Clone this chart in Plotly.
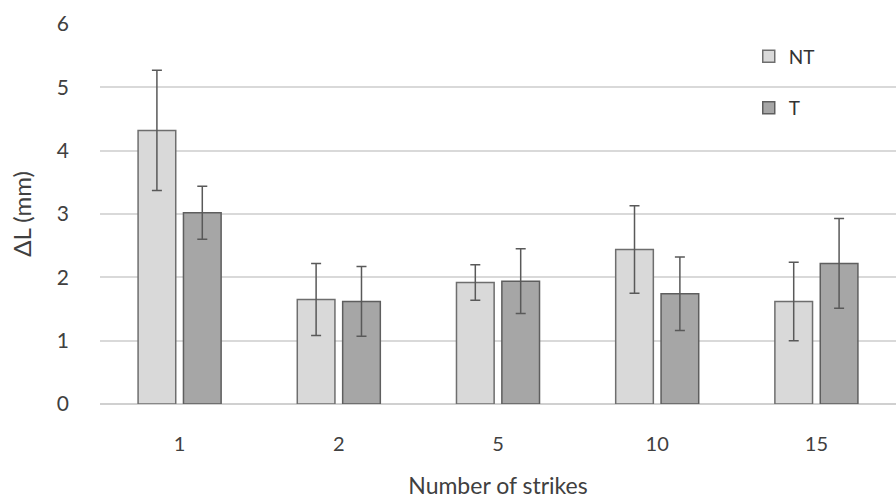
import plotly.graph_objects as go

categories = ["1", "2", "5", "10", "15"]
nt_values = [4.32, 1.65, 1.92, 2.44, 1.62]
nt_errors = [0.95, 0.57, 0.28, 0.69, 0.62]
t_values = [3.02, 1.62, 1.94, 1.74, 2.22]
t_errors = [0.42, 0.55, 0.51, 0.58, 0.71]
y_ticks = [0, 1, 2, 3, 4, 5, 6]

font_family = "Lato, 'Open Sans', sans-serif"
text_color = "#404040"

fig = go.Figure()
fig.add_trace(go.Bar(
    name="NT", x=categories, y=nt_values,
    marker=dict(color="#d9d9d9", line=dict(color="#6e6e6e", width=1.5)),
    error_y=dict(type="data", array=nt_errors, color="#595959", thickness=1.5, width=5),
    legendgroup="nt",
))
fig.add_trace(go.Bar(
    name="T", x=categories, y=t_values,
    marker=dict(color="#a6a6a6", line=dict(color="#5e5e5e", width=1.5)),
    error_y=dict(type="data", array=t_errors, color="#595959", thickness=1.5, width=5),
    legendgroup="t",
))

fig.update_layout(
    width=896, height=499,
    margin=dict(l=100, r=0, t=24, b=95),
    paper_bgcolor="white", plot_bgcolor="white",
    barmode="group", bargap=0.43, bargroupgap=0.17,
    font=dict(family=font_family, color=text_color, size=18),
    showlegend=True,
    legend=dict(x=0.815, y=0.965, xanchor="left", yanchor="top",
                font=dict(size=19, color="#333333"), tracegroupgap=24,
                bgcolor="rgba(0,0,0,0)", itemwidth=30),
    xaxis=dict(
        type="category", showgrid=False, showline=False, zeroline=False,
        ticks="", tickfont=dict(size=20, color=text_color), ticklabelstandoff=26,
        title=dict(text="Number of strikes", font=dict(size=23, color=text_color), standoff=24),
    ),
    yaxis=dict(
        range=[0, 6], tickvals=y_ticks, showgrid=True, gridcolor="#d9d9d9", gridwidth=1.5,
        zeroline=True, zerolinecolor="#d0d0d0", zerolinewidth=1.5, showline=False,
        tickfont=dict(size=21, color=text_color), ticklabelstandoff=30,
        title=dict(text="ΔL (mm)", font=dict(size=24, color=text_color), standoff=18),
    ),
)

fig.write_html("out.html")
